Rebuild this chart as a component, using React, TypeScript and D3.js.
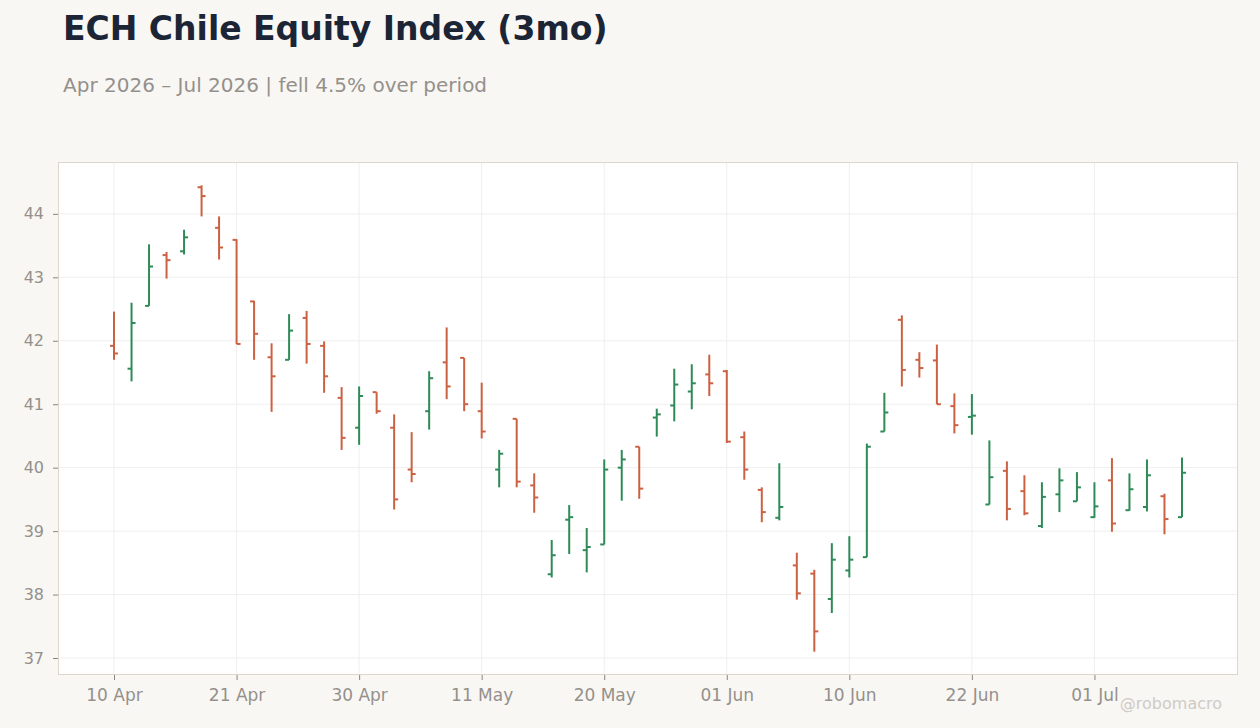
import { useEffect, useRef } from 'react';
import * as d3 from 'd3';

const dates = [
  '2026-04-10', '2026-04-13', '2026-04-14', '2026-04-15', '2026-04-16', '2026-04-17',
  '2026-04-20', '2026-04-21', '2026-04-22', '2026-04-23', '2026-04-24', '2026-04-27',
  '2026-04-28', '2026-04-29', '2026-04-30', '2026-05-01', '2026-05-04', '2026-05-05',
  '2026-05-06', '2026-05-07', '2026-05-08', '2026-05-11', '2026-05-12', '2026-05-13',
  '2026-05-14', '2026-05-15', '2026-05-18', '2026-05-19', '2026-05-20', '2026-05-21',
  '2026-05-22', '2026-05-26', '2026-05-27', '2026-05-28', '2026-05-29', '2026-06-01',
  '2026-06-02', '2026-06-03', '2026-06-04', '2026-06-05', '2026-06-08', '2026-06-09',
  '2026-06-10', '2026-06-11', '2026-06-12', '2026-06-15', '2026-06-16', '2026-06-17',
  '2026-06-18', '2026-06-22', '2026-06-23', '2026-06-24', '2026-06-25', '2026-06-26',
  '2026-06-29', '2026-06-30', '2026-07-01', '2026-07-02', '2026-07-06', '2026-07-07',
  '2026-07-08', '2026-07-09',
];

const opens = [
  41.92, 41.56, 42.55, 43.35, 43.41, 44.42, 43.78, 43.59, 42.62, 41.74,
  41.70, 42.36, 41.92, 41.10, 40.63, 41.19, 40.63, 39.97, 40.89, 41.66,
  41.73, 40.89, 39.97, 40.77, 39.72, 38.32, 39.18, 38.70, 38.79, 40.00,
  40.33, 40.79, 40.98, 41.20, 41.47, 41.52, 40.48, 39.65, 39.21, 38.46,
  38.33, 37.93, 38.38, 38.59, 40.57, 42.33, 41.70, 41.69, 40.97, 40.80,
  39.42, 39.95, 39.63, 39.08, 39.58, 39.47, 39.22, 39.80, 39.33, 39.38,
  39.55, 39.22,
];

const highs = [
  42.46, 42.60, 43.52, 43.40, 43.75, 44.45, 43.96, 43.60, 42.63, 41.96,
  42.42, 42.47, 41.99, 41.27, 41.28, 41.19, 40.84, 40.56, 41.52, 42.21,
  41.73, 41.34, 40.28, 40.77, 39.91, 38.86, 39.41, 39.05, 40.13, 40.28,
  40.33, 40.93, 41.56, 41.63, 41.78, 41.54, 40.57, 39.69, 40.07, 38.66,
  38.39, 38.81, 38.92, 40.38, 41.18, 42.40, 41.82, 41.94, 41.17, 41.16,
  40.43, 40.10, 39.88, 39.77, 39.99, 39.93, 39.77, 40.15, 39.91, 40.13,
  39.59, 40.16,
];

const lows = [
  41.70, 41.36, 42.55, 42.98, 43.36, 43.96, 43.28, 41.95, 41.70, 40.88,
  41.70, 41.64, 41.18, 40.28, 40.36, 40.85, 39.34, 39.77, 40.60, 41.08,
  40.89, 40.46, 39.69, 39.69, 39.29, 38.27, 38.64, 38.35, 38.79, 39.48,
  39.51, 40.49, 40.73, 40.92, 41.13, 40.39, 39.81, 39.14, 39.17, 37.92,
  37.10, 37.71, 38.27, 38.59, 40.57, 41.28, 41.42, 41.00, 40.54, 40.52,
  39.42, 39.17, 39.25, 39.05, 39.30, 39.47, 39.21, 38.99, 39.32, 39.31,
  38.95, 39.22,
];

const closes = [
  41.80, 42.28, 43.17, 43.27, 43.63, 44.28, 43.47, 41.95, 42.11, 41.44,
  42.16, 41.95, 41.44, 40.47, 41.13, 40.89, 39.50, 39.90, 41.41, 41.28,
  41.00, 40.57, 40.22, 39.78, 39.53, 38.62, 39.22, 38.75, 39.97, 40.13,
  39.67, 40.84, 41.31, 41.33, 41.33, 40.41, 39.97, 39.30, 39.38, 38.02,
  37.42, 38.55, 38.55, 40.33, 40.87, 41.54, 41.57, 41.00, 40.67, 40.82,
  39.85, 39.35, 39.28, 39.54, 39.80, 39.69, 39.39, 39.12, 39.66, 39.88,
  39.19, 39.92,
];

const yTicks = [37, 38, 39, 40, 41, 42, 43, 44];
const xTickEvery = 7;

const title = 'ECH Chile Equity Index (3mo)';
const subtitle = 'Apr 2026 – Jul 2026 | fell 4.5% over period';
const watermark = '@robomacro';

const UP = '#2e8b57';
const DOWN = '#cc6142';
const FONT = '"DejaVu Sans", sans-serif';
const MUTED = '#95908b';

const W = 1260;
const H = 728;

const OhlcChart = () => {
  const svgRef = useRef<SVGSVGElement>(null);

  useEffect(() => {
    if (!svgRef.current) return;
    const svg = d3.select(svgRef.current);
    svg.selectAll('*').remove();

    const margin = { top: 162, right: 22, bottom: 53, left: 58 };
    const innerWidth = W - margin.left - margin.right;
    const innerHeight = H - margin.top - margin.bottom;

    const bars = dates.map((d, i) => ({
      key: d,
      open: opens[i],
      high: highs[i],
      low: lows[i],
      close: closes[i],
    }));

    svg.append('rect').attr('width', W).attr('height', H).attr('fill', '#f8f7f4');

    svg.append('text')
      .attr('x', 63)
      .attr('y', 40)
      .style('font-family', FONT)
      .style('font-weight', 'bold')
      .style('font-size', '33px')
      .attr('fill', '#1c2536')
      .text(title);

    svg.append('text')
      .attr('x', 63)
      .attr('y', 92)
      .style('font-family', FONT)
      .style('font-size', '20px')
      .attr('fill', MUTED)
      .text(subtitle);

    const x = d3.scalePoint<string>()
      .domain(dates)
      .range([0, innerWidth])
      .padding(3.2);

    const lo = d3.min(lows) as number;
    const hi = d3.max(highs) as number;
    const pad = (hi - lo) * 0.05;
    const y = d3.scaleLinear().domain([lo - pad, hi + pad]).range([innerHeight, 0]);

    const g = svg.append('g').attr('transform', `translate(${margin.left},${margin.top})`);

    g.append('rect')
      .attr('width', innerWidth)
      .attr('height', innerHeight)
      .attr('fill', '#ffffff');

    const tickKeys = dates.filter((_, i) => i % xTickEvery === 0);

    // grid
    g.append('g')
      .selectAll('line')
      .data(yTicks)
      .enter()
      .append('line')
      .attr('x1', 0)
      .attr('x2', innerWidth)
      .attr('y1', (d) => y(d))
      .attr('y2', (d) => y(d))
      .attr('stroke', '#efefef')
      .attr('stroke-width', 1);

    g.append('g')
      .selectAll('line')
      .data(tickKeys)
      .enter()
      .append('line')
      .attr('x1', (d) => x(d) || 0)
      .attr('x2', (d) => x(d) || 0)
      .attr('y1', 0)
      .attr('y2', innerHeight)
      .attr('stroke', '#efefef')
      .attr('stroke-width', 1);

    const fmt = d3.timeFormat('%d %b');
    const parse = d3.timeParse('%Y-%m-%d');

    const xAxis = g.append('g')
      .attr('transform', `translate(0,${innerHeight})`)
      .call(
        d3.axisBottom(x)
          .tickValues(tickKeys)
          .tickSize(5)
          .tickPadding(9)
          .tickFormat((d) => fmt(parse(d) as Date)),
      );
    xAxis.select('.domain').remove();
    xAxis.selectAll('line').attr('stroke', '#8a8580');
    xAxis.selectAll('text')
      .style('font-family', FONT)
      .style('font-size', '17px')
      .attr('fill', MUTED);

    const yAxis = g.append('g')
      .call(d3.axisLeft(y).tickValues(yTicks).tickSize(5).tickPadding(9).tickFormat(d3.format('d')));
    yAxis.select('.domain').remove();
    yAxis.selectAll('line').attr('stroke', '#8a8580');
    yAxis.selectAll('text')
      .style('font-family', FONT)
      .style('font-size', '16px')
      .attr('fill', MUTED);

    g.append('rect')
      .attr('x', 0.5)
      .attr('y', 0.5)
      .attr('width', innerWidth - 1)
      .attr('height', innerHeight - 1)
      .attr('fill', 'none')
      .attr('stroke', '#ddd6cf')
      .attr('stroke-width', 1);

    const bar = g.selectAll('.ohlc')
      .data(bars)
      .enter()
      .append('g')
      .attr('class', 'ohlc')
      .attr('stroke', (d) => (d.close >= d.open ? UP : DOWN))
      .attr('stroke-width', 2);

    bar.append('line')
      .attr('x1', (d) => x(d.key) || 0)
      .attr('x2', (d) => x(d.key) || 0)
      .attr('y1', (d) => y(d.high))
      .attr('y2', (d) => y(d.low));

    bar.append('line')
      .attr('x1', (d) => (x(d.key) || 0) - 4)
      .attr('x2', (d) => x(d.key) || 0)
      .attr('y1', (d) => y(d.open))
      .attr('y2', (d) => y(d.open));

    bar.append('line')
      .attr('x1', (d) => x(d.key) || 0)
      .attr('x2', (d) => (x(d.key) || 0) + 4)
      .attr('y1', (d) => y(d.close))
      .attr('y2', (d) => y(d.close));

    svg.append('text')
      .attr('x', 1222)
      .attr('y', 709)
      .attr('text-anchor', 'end')
      .style('font-family', FONT)
      .style('font-size', '16px')
      .attr('fill', '#cfcbc6')
      .text(watermark);
  }, []);

  return <svg ref={svgRef} width={W} height={H} style={{ display: 'block' }} />;
};

export default function App() {
  return (
    <div style={{ position: 'absolute', left: 0, top: 0 }}>
      <OhlcChart />
    </div>
  );
}
